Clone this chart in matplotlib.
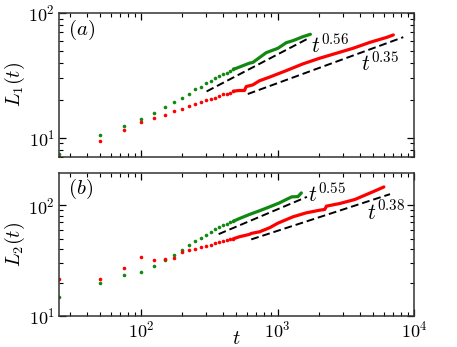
import numpy as np
import matplotlib
matplotlib.use('Agg')
import matplotlib.pyplot as plt
from matplotlib.ticker import NullFormatter, LogLocator

plt.rcParams['font.family'] = 'serif'
plt.rcParams['font.serif'] = ['cmr10']
plt.rcParams['mathtext.fontset'] = 'cm'
plt.rcParams['axes.formatter.use_mathtext'] = True

# ---- panel (a): L1(t) ----
# early, well separated points (t = 25, 50, ...)
t_early = [25, 50, 75, 100, 125, 150, 175, 200, 225, 250, 275, 300, 325,
           350, 375, 400, 425, 450, 475]
a_green_early = [7.35, 10.6, 12.5, 14.1, 15.8, 17.7, 19.5, 20.8, 22.2, 24.7,
                 25.7, 27.4, 28.7, 30.0, 31.3, 32.5, 33.3, 34.4, 35.5]
a_red_early = [6.95, 9.4, 11.5, 13.4, 14.5, 15.2, 16.5, 17.0, 17.8, 18.6,
               19.2, 20.1, 20.4, 20.9, 21.6, 22.2, 22.5, 22.8, 23.6]

# dense part
a_green_t = [475, 497, 622, 658, 826, 1005, 1158, 1296, 1535, 1740]
a_green_L = [35.5, 36.0, 39.6, 40.1, 48.1, 52.1, 57.8, 60.0, 64.6, 67.5]
a_red_t = [475, 520, 572, 589, 658, 737, 873, 1158, 1535, 2037, 2703, 3586,
           4760, 6317, 7050]
a_red_L = [23.6, 23.9, 23.9, 25.7, 26.5, 28.6, 30.6, 34.5, 39.1, 43.4, 47.6,
           52.2, 58.2, 63.8, 66.7]

# ---- panel (b): L2(t) ----
b_green_early = [14.8, 19.7, 23.2, 24.8, 28.2, 32.0, 35.2, 39.1, 43.6, 47.8,
                 50.5, 53.4, 57.2, 60.4, 63.0, 65.6, 67.4, 69.8, 71.7]
b_red_early = [21.7, 21.4, 27.1, 34.0, 31.8, 32.4, 33.3, 37.7, 39.4, 40.4,
               41.6, 42.7, 43.9, 45.2, 46.4, 47.4, 48.4, 49.1, 49.8]

b_green_t = [475, 526, 622, 737, 873, 1035, 1158, 1270, 1410, 1494]
b_green_L = [71.7, 75.8, 82.4, 89.0, 96.5, 105.0, 112.5, 118.8, 119.5, 129.0]
b_red_t = [475, 526, 622, 641, 737, 873, 1005, 1296, 1625, 2037, 2218, 2281,
           2858, 3683, 4487, 5316, 6010]
b_red_L = [49.8, 51.9, 54.5, 55.6, 57.5, 62.5, 68.8, 78.5, 85.3, 90.1, 91.5,
           98.0, 103.5, 112.5, 124.8, 136.5, 146.0]

# power-law guide lines: (t_start, t_end), (L_start, L_end), label, label pos
a_guides = [((302, 1718), (23.5, 63.4), r'$t^{0.56}$', (1750, 47.9)),
            ((605, 8340), (22.4, 64.0), r'$t^{0.35}$', (4120, 34.3))]
b_guides = [((370, 1641), (54.8, 118.8), r'$t^{0.55}$', (1663, 105.7)),
            ((641, 6670), (49.1, 125.7), r'$t^{0.38}$', (4487, 74.3))]

green = '#118811'
red = '#ff0000'

fig = plt.figure(figsize=(4.57, 3.47), dpi=100)
ax1 = fig.add_axes([0.129, 0.5476, 0.777, 0.4149])
ax2 = fig.add_axes([0.129, 0.0893, 0.777, 0.4121])


def draw(ax, g_early, r_early, g_t, g_L, r_t, r_L, guides):
    ax.plot(t_early, g_early, 'o', color=green, ms=2.6, mew=0)
    ax.plot(t_early, r_early, 'o', color=red, ms=2.6, mew=0)
    ax.plot(g_t, g_L, '-', color=green, lw=2.3, solid_capstyle='round')
    ax.plot(r_t, r_L, '-', color=red, lw=2.3, solid_capstyle='round')
    for (ts, Ls, lab, pos) in guides:
        ax.plot(ts, Ls, '--', color='black', lw=1.4, dashes=(4, 2))
        ax.text(pos[0], pos[1], lab, fontsize=15.5, ha='left', va='baseline')
    ax.set_xscale('log')
    ax.set_yscale('log')
    ax.set_xlim(25, 1e4)
    ax.tick_params(which='both', direction='in', top=True, right=True,
                   labelsize=13)
    ax.tick_params(which='major', length=5, width=0.9, pad=3)
    ax.tick_params(which='minor', length=2.8, width=0.8)
    ax.yaxis.set_minor_formatter(NullFormatter())
    ax.xaxis.set_minor_formatter(NullFormatter())
    ax.xaxis.set_minor_locator(LogLocator(subs=np.arange(2, 10)))
    for s in ax.spines.values():
        s.set_linewidth(1.1)
        s.set_color('#333333')


draw(ax1, a_green_early, a_red_early, a_green_t, a_green_L, a_red_t, a_red_L,
     a_guides)
draw(ax2, b_green_early, b_red_early, b_green_t, b_green_L, b_red_t, b_red_L,
     b_guides)

ax1.set_ylim(7, 100)
ax1.set_xticklabels([])
ax1.set_ylabel(r'$L_1(t)$', fontsize=14.5, labelpad=1)
ax1.text(0.025, 0.965, r'$(a)$', transform=ax1.transAxes, fontsize=15,
         va='top', ha='left')

ax2.set_ylim(10, 195)
ax2.set_xlabel(r'$t$', fontsize=14.5, labelpad=-8)
ax2.set_ylabel(r'$L_2(t)$', fontsize=14.5, labelpad=1)
ax2.text(0.025, 0.975, r'$(b)$', transform=ax2.transAxes, fontsize=15,
         va='top', ha='left')

plt.savefig('out.png', dpi=100)
